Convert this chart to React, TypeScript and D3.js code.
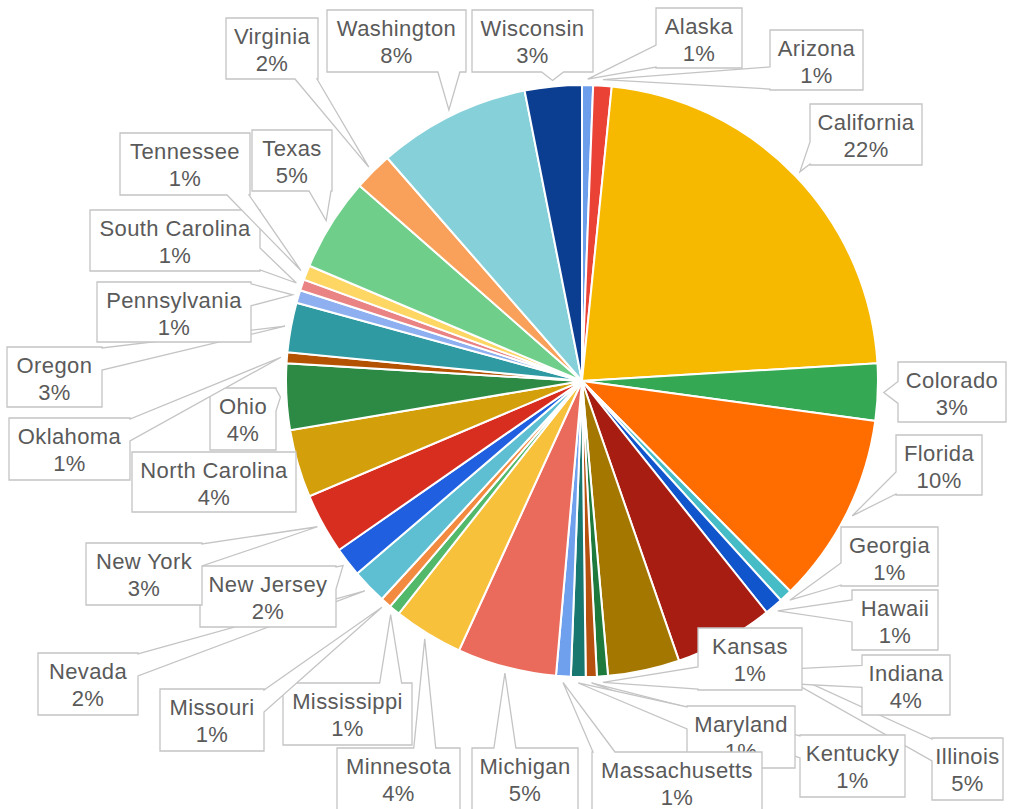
import React from "react"
import * as d3 from "d3"

// states in the order they appear clockwise from 12 o'clock
const states = [
  "Alaska", "Arizona", "California", "Colorado", "Florida", "Georgia", "Hawaii",
  "Illinois", "Indiana", "Kansas", "Kentucky", "Maryland", "Massachusetts",
  "Michigan", "Minnesota", "Mississippi", "Missouri", "Nevada", "New Jersey",
  "New York", "North Carolina", "Ohio", "Oklahoma", "Oregon", "Pennsylvania",
  "South Carolina", "Tennessee", "Texas", "Virginia", "Washington", "Wisconsin",
]

const shares = [
  0.6, 1.0, 22.4, 3.1, 10.4, 0.7, 1.0,
  5.4, 3.9, 0.6, 0.6, 0.8, 0.8,
  5.4, 3.8, 0.6, 0.6, 1.9, 1.6,
  3.3, 3.7, 3.6, 0.6, 2.7, 0.7,
  0.6, 0.8, 5.1, 2.1, 8.3, 3.1,
]

const sliceColors = [
  "#6d9eeb", "#ea4335", "#f6b900", "#34a853", "#ff6d00", "#46bdc6", "#1155cc",
  "#a81d12", "#a47800", "#1e7a3c", "#b5500e", "#18776e", "#6fa0ee",
  "#ea6b5c", "#f8c13b", "#52b86a", "#f28a40", "#5ebfd2", "#1f5fe0",
  "#d72e1f", "#d39f0a", "#2d8a44", "#b35200", "#2f9aa2", "#8fb0f0",
  "#ea8383", "#fdd663", "#6fcf8a", "#f9a15a", "#86d0da", "#0b3d91",
]

// callout boxes: [x, y, width, height]
const labelBoxes: [number, number, number, number][] = [
  [656, 8, 86, 60], [770, 30, 93, 60], [810, 104, 112, 61], [898, 362, 108, 60],
  [896, 435, 86, 60], [841, 527, 97, 59], [852, 590, 86, 60], [932, 738, 71, 62],
  [862, 655, 88, 60], [698, 628, 104, 62], [800, 735, 105, 62], [687, 706, 108, 62],
  [592, 752, 170, 62], [472, 748, 106, 62], [337, 748, 123, 62], [283, 683, 129, 62],
  [160, 689, 104, 62], [38, 653, 100, 62], [200, 566, 136, 61], [86, 543, 116, 62],
  [132, 452, 164, 60], [210, 388, 66, 62], [9, 418, 121, 62], [7, 347, 95, 60],
  [97, 282, 154, 60], [90, 210, 170, 61], [120, 133, 130, 62], [252, 130, 80, 61],
  [226, 18, 92, 61], [327, 10, 139, 62], [472, 10, 121, 62],
]

const cx = 582
const cy = 381
const radius = 296

function bubblePath(box: [number, number, number, number], tip: [number, number]) {
  const [x0, y0, w, h] = box
  const x1 = x0 + w
  const y1 = y0 + h
  const [tx, ty] = tip
  const hw = 11
  const p = d3.path()
  const inside = tx >= x0 && tx <= x1 && ty >= y0 && ty <= y1
  let side = "none"
  if (!inside) {
    const dx = tx < x0 ? x0 - tx : tx > x1 ? tx - x1 : 0
    const dy = ty < y0 ? y0 - ty : ty > y1 ? ty - y1 : 0
    if (dx > dy) side = tx < x0 ? "left" : "right"
    else side = ty < y0 ? "top" : "bottom"
  }
  const clampX = Math.max(x0 + hw + 1, Math.min(x1 - hw - 1, tx))
  const clampY = Math.max(y0 + hw + 1, Math.min(y1 - hw - 1, ty))
  p.moveTo(x0, y0)
  if (side === "top") { p.lineTo(clampX - hw, y0); p.lineTo(tx, ty); p.lineTo(clampX + hw, y0) }
  p.lineTo(x1, y0)
  if (side === "right") { p.lineTo(x1, clampY - hw); p.lineTo(tx, ty); p.lineTo(x1, clampY + hw) }
  p.lineTo(x1, y1)
  if (side === "bottom") { p.lineTo(clampX + hw, y1); p.lineTo(tx, ty); p.lineTo(clampX - hw, y1) }
  p.lineTo(x0, y1)
  if (side === "left") { p.lineTo(x0, clampY + hw); p.lineTo(tx, ty); p.lineTo(x0, clampY - hw) }
  p.closePath()
  return p.toString()
}

export default function App() {
  const total = d3.sum(shares)
  const pie = d3.pie<number>().sort(null).value(d => d)
  const arcs = pie(shares)
  const arc = d3.arc<d3.PieArcDatum<number>>().innerRadius(0).outerRadius(radius)
  const tipArc = d3.arc<d3.PieArcDatum<number>>().innerRadius(radius + 6).outerRadius(radius + 6)

  return (
    <svg
      width={1009}
      height={809}
      style={{ position: "absolute", left: 0, top: 0, background: "#fff" }}
      fontFamily="'Liberation Sans', Arial, sans-serif"
    >
      <g transform={`translate(${cx},${cy})`}>
        {arcs.map((a, i) => (
          <path key={states[i]} d={arc(a) || ""} fill={sliceColors[i]} stroke="#fff" strokeWidth={2} />
        ))}
      </g>
      {arcs.map((a, i) => {
        const c = tipArc.centroid(a)
        const tip: [number, number] = [cx + c[0], cy + c[1]]
        const box = labelBoxes[i]
        const mid = box[0] + box[2] / 2
        return (
          <g key={"lbl" + states[i]}>
            <path d={bubblePath(box, tip)} fill="#fff" stroke="#c4c4c4" strokeWidth={1.3} strokeLinejoin="miter" />
            <text x={mid} y={box[1] + 26} textAnchor="middle" fontSize={22} fill="#5a5a5a" letterSpacing={0.4}>
              {states[i]}
            </text>
            <text x={mid} y={box[1] + 53} textAnchor="middle" fontSize={22} fill="#5a5a5a" letterSpacing={0.4}>
              {Math.round((shares[i] / total) * 100) + "%"}
            </text>
          </g>
        )
      })}
    </svg>
  )
}
